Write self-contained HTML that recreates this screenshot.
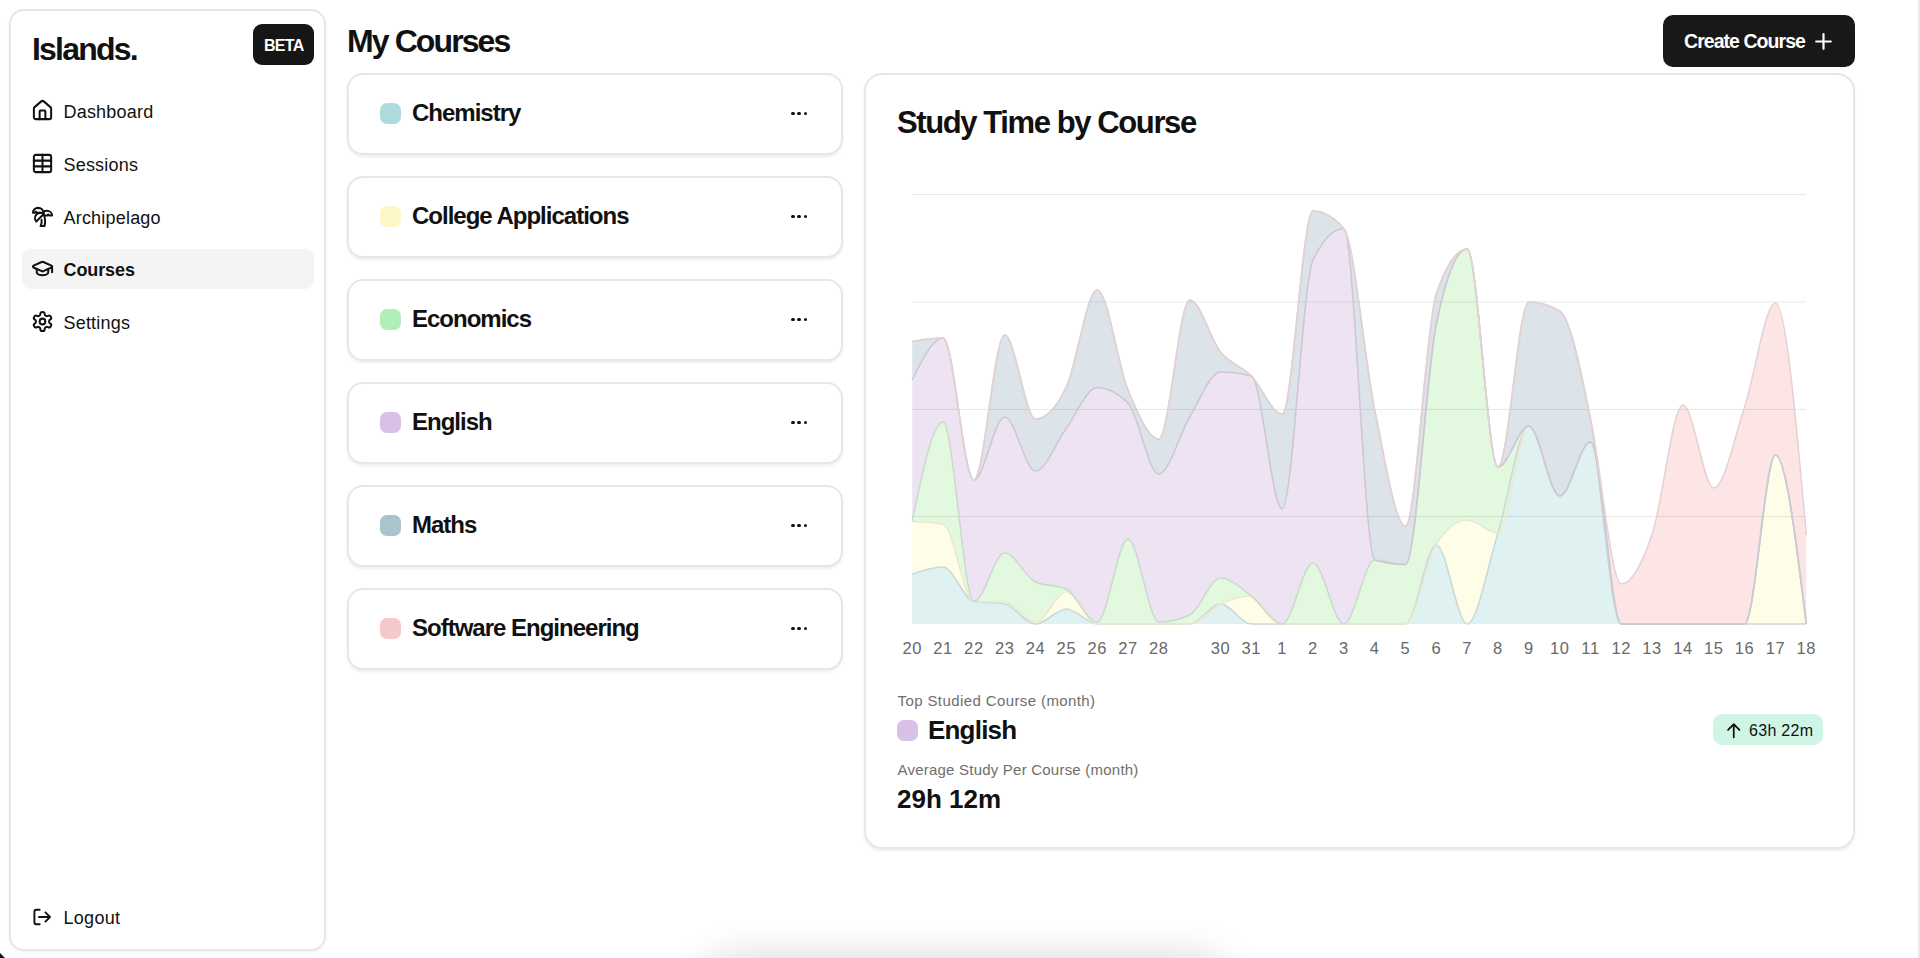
<!DOCTYPE html>
<html><head><meta charset="utf-8"><style>
html,body{margin:0;padding:0;background:#fff;width:1920px;height:958px;overflow:hidden;position:relative;font-family:"Liberation Sans",sans-serif}
.t{position:absolute;line-height:1;white-space:nowrap}
.ic{position:absolute}
.panel{position:absolute;box-sizing:border-box;border:2px solid #e6e6e6;background:#fff;border-radius:14px;box-shadow:0 1px 3px rgba(0,0,0,0.06)}
.card{position:absolute;box-sizing:border-box;border:2px solid #e7e7e7;background:#fff;border-radius:16px;box-shadow:0 2px 3px rgba(0,0,0,0.07)}
.sw{position:absolute;width:20.5px;height:20.5px;border-radius:7px}
.dots{position:absolute;width:18px;height:6px}
.dots i{position:absolute;top:0;width:3.7px;height:3.7px;border-radius:50%;background:#111}
.dots i:nth-child(1){left:0} .dots i:nth-child(2){left:6.3px} .dots i:nth-child(3){left:12.6px}
</style></head><body>
<div class="panel" style="left:9.3px;top:9.3px;width:317px;height:941.5px;border-radius:15px"></div>
<div class="t" style="left:32px;top:32.61px;font-size:32px;font-weight:700;color:#111;letter-spacing:-1.8px;">Islands.</div>
<div style="position:absolute;left:253px;top:24px;width:61px;height:41px;background:#161616;border-radius:9px"></div>
<div class="t" style="left:264px;top:38.26px;font-size:16px;font-weight:700;color:#fff;letter-spacing:-0.7px;">BETA</div>
<div style="position:absolute;left:21.5px;top:248.5px;width:292px;height:40.5px;background:#f4f4f4;border-radius:9px"></div>
<svg class="ic" style="left:30.8px;top:99.0px" width="23" height="23" viewBox="0 0 24 24"><path fill="none" stroke="#111" stroke-width="2.1" stroke-linecap="round" stroke-linejoin="round" d="M15 21v-8a1 1 0 0 0-1-1h-4a1 1 0 0 0-1 1v8"/><path fill="none" stroke="#111" stroke-width="2.1" stroke-linecap="round" stroke-linejoin="round" d="M3 10a2 2 0 0 1 .709-1.528l7-5.999a2 2 0 0 1 2.582 0l7 5.999A2 2 0 0 1 21 10v9a2 2 0 0 1-2 2H5a2 2 0 0 1-2-2z"/></svg><div class="t" style="left:63.5px;top:102.96px;font-size:18px;font-weight:400;color:#111;letter-spacing:0.2px;">Dashboard</div><svg class="ic" style="left:30.8px;top:152.0px" width="23" height="23" viewBox="0 0 24 24"><path fill="none" stroke="#111" stroke-width="2.1" stroke-linecap="round" stroke-linejoin="round" d="M12 3v18"/><rect fill="none" stroke="#111" stroke-width="2.1" stroke-linecap="round" stroke-linejoin="round" width="18" height="18" x="3" y="3" rx="2"/><path fill="none" stroke="#111" stroke-width="2.1" stroke-linecap="round" stroke-linejoin="round" d="M3 9h18"/><path fill="none" stroke="#111" stroke-width="2.1" stroke-linecap="round" stroke-linejoin="round" d="M3 15h18"/></svg><div class="t" style="left:63.5px;top:155.96px;font-size:18px;font-weight:400;color:#111;letter-spacing:0.2px;">Sessions</div><svg class="ic" style="left:30.8px;top:205.1px" width="23" height="23" viewBox="0 0 24 24"><path fill="none" stroke="#111" stroke-width="2.1" stroke-linecap="round" stroke-linejoin="round" d="M13 8c0-2.76-2.46-5-5.5-5S2 5.24 2 8h2l1-1 1 1h4"/><path fill="none" stroke="#111" stroke-width="2.1" stroke-linecap="round" stroke-linejoin="round" d="M13 7.14A5.82 5.82 0 0 1 16.5 6c3.04 0 5.5 2.24 5.5 5h-3l-1-1-1 1h-3"/><path fill="none" stroke="#111" stroke-width="2.1" stroke-linecap="round" stroke-linejoin="round" d="M5.89 9.71c-2.15 2.15-2.3 5.47-.35 7.43l4.24-4.25.7-.7.71-.71 2.12-2.12c-1.950-1.96-5.27-1.8-7.42.35"/><path fill="none" stroke="#111" stroke-width="2.1" stroke-linecap="round" stroke-linejoin="round" d="M11 15.5c.5 2.5-.17 4.5-1 6.5h4c2-5.5-.5-12-1-14"/></svg><div class="t" style="left:63.5px;top:209.06px;font-size:18px;font-weight:400;color:#111;letter-spacing:0.2px;">Archipelago</div><svg class="ic" style="left:30.8px;top:257.2px" width="23" height="23" viewBox="0 0 24 24"><path fill="none" stroke="#111" stroke-width="2.1" stroke-linecap="round" stroke-linejoin="round" d="M21.42 10.922a1 1 0 0 0-.019-1.838L12.83 5.18a2 2 0 0 0-1.66 0L2.6 9.08a1 1 0 0 0 0 1.832l8.57 3.908a2 2 0 0 0 1.66 0z"/><path fill="none" stroke="#111" stroke-width="2.1" stroke-linecap="round" stroke-linejoin="round" d="M22 10v6"/><path fill="none" stroke="#111" stroke-width="2.1" stroke-linecap="round" stroke-linejoin="round" d="M6 12.5V16a6 3 0 0 0 12 0v-3.5"/></svg><div class="t" style="left:63.5px;top:261.16px;font-size:18px;font-weight:700;color:#111;letter-spacing:-0.1px;">Courses</div><svg class="ic" style="left:30.8px;top:310.0px" width="23" height="23" viewBox="0 0 24 24"><path fill="none" stroke="#111" stroke-width="2.1" stroke-linecap="round" stroke-linejoin="round" d="M12.22 2h-.44a2 2 0 0 0-2 2v.18a2 2 0 0 1-1 1.73l-.43.25a2 2 0 0 1-2 0l-.15-.08a2 2 0 0 0-2.73.73l-.22.38a2 2 0 0 0 .73 2.73l.15.1a2 2 0 0 1 1 1.72v.51a2 2 0 0 1-1 1.74l-.15.09a2 2 0 0 0-.73 2.730l.22.38a2 2 0 0 0 2.73.73l.15-.08a2 2 0 0 1 2 0l.43.25a2 2 0 0 1 1 1.73V20a2 2 0 0 0 2 2h.44a2 2 0 0 0 2-2v-.18a2 2 0 0 1 1-1.73l.43-.25a2 2 0 0 1 2 0l.15.08a2 2 0 0 0 2.73-.73l.22-.39a2 2 0 0 0-.73-2.73l-.15-.08a2 2 0 0 1-1-1.74v-.5a2 2 0 0 1 1-1.74l.15-.09a2 2 0 0 0 .73-2.73l-.22-.38a2 2 0 0 0-2.73-.73l-.15.08a2 2 0 0 1-2 0l-.43-.25a2 2 0 0 1-1-1.73V4a2 2 0 0 0-2-2z"/><circle fill="none" stroke="#111" stroke-width="2.1" stroke-linecap="round" stroke-linejoin="round" cx="12" cy="12" r="3"/></svg><div class="t" style="left:63.5px;top:313.96px;font-size:18px;font-weight:400;color:#111;letter-spacing:0.2px;">Settings</div>
<svg style="position:absolute;left:30px;top:905px" width="24" height="24" viewBox="0 0 24 24"><path d="M9.7 4.7H6.4a2 2 0 0 0-2 2v10.6a2 2 0 0 0 2 2h3.3M9 12h10.9M15.4 7.4L20 12l-4.6 4.6" fill="none" stroke="#111" stroke-width="1.9" stroke-linecap="round" stroke-linejoin="round"/></svg>
<div class="t" style="left:63.5px;top:909.26px;font-size:18px;font-weight:400;color:#111;letter-spacing:0.3px;">Logout</div>
<div class="t" style="left:347px;top:25.41px;font-size:32px;font-weight:700;color:#111;letter-spacing:-1.9px;">My Courses</div>
<div class="card" style="left:347px;top:73px;width:495.5px;height:81.5px"></div><div class="sw" style="left:380px;top:103px;background:#addbdb"></div><div class="t" style="left:412px;top:101.18px;font-size:24px;font-weight:700;color:#111;letter-spacing:-1px;">Chemistry</div><div class="dots" style="left:791.2px;top:111.7px"><i></i><i></i><i></i></div><div class="card" style="left:347px;top:176px;width:495.5px;height:81.5px"></div><div class="sw" style="left:380px;top:206px;background:#fdf6c6"></div><div class="t" style="left:412px;top:204.18px;font-size:24px;font-weight:700;color:#111;letter-spacing:-1px;">College Applications</div><div class="dots" style="left:791.2px;top:214.7px"><i></i><i></i><i></i></div><div class="card" style="left:347px;top:279px;width:495.5px;height:81.5px"></div><div class="sw" style="left:380px;top:309px;background:#b0efb9"></div><div class="t" style="left:412px;top:307.18px;font-size:24px;font-weight:700;color:#111;letter-spacing:-1px;">Economics</div><div class="dots" style="left:791.2px;top:317.7px"><i></i><i></i><i></i></div><div class="card" style="left:347px;top:382px;width:495.5px;height:81.5px"></div><div class="sw" style="left:380px;top:412px;background:#d8c0e7"></div><div class="t" style="left:412px;top:410.18px;font-size:24px;font-weight:700;color:#111;letter-spacing:-1px;">English</div><div class="dots" style="left:791.2px;top:420.7px"><i></i><i></i><i></i></div><div class="card" style="left:347px;top:485px;width:495.5px;height:81.5px"></div><div class="sw" style="left:380px;top:515px;background:#a9c3cf"></div><div class="t" style="left:412px;top:513.18px;font-size:24px;font-weight:700;color:#111;letter-spacing:-1px;">Maths</div><div class="dots" style="left:791.2px;top:523.7px"><i></i><i></i><i></i></div><div class="card" style="left:347px;top:588px;width:495.5px;height:81.5px"></div><div class="sw" style="left:380px;top:618px;background:#f6c8cb"></div><div class="t" style="left:412px;top:616.18px;font-size:24px;font-weight:700;color:#111;letter-spacing:-1px;">Software Engineering</div><div class="dots" style="left:791.2px;top:626.7px"><i></i><i></i><i></i></div>
<div style="position:absolute;left:1663px;top:15px;width:192px;height:52px;background:#181818;border-radius:10px"></div>
<div class="t" style="left:1684px;top:31.69px;font-size:19.5px;font-weight:700;color:#fff;letter-spacing:-0.95px;">Create Course</div>
<svg style="position:absolute;left:1814px;top:32px" width="19" height="19" viewBox="0 0 19 19"><path d="M9.5 2.2v14.6M2.2 9.5h14.6" stroke="#fff" stroke-width="2.2" stroke-linecap="round"/></svg>
<div class="card" style="left:864px;top:73px;width:991px;height:776px;border-radius:18px"></div>
<div class="t" style="left:897px;top:106.76px;font-size:31px;font-weight:700;color:#111;letter-spacing:-1.4px;">Study Time by Course</div>
<svg style="position:absolute;left:0;top:0" width="1920" height="958">
<path d="M912.2,574C922.5,570.5 932.8,567 943,567C953.3,567 963.6,599.8 973.9,601.5C984.1,603.2 994.4,602.3 1004.7,604C1015,605.7 1025.2,624 1035.5,624C1045.8,624 1056.1,609 1066.4,609C1076.6,609 1086.9,624 1097.2,624C1107.5,624 1117.7,624 1128,624C1138.3,624 1148.6,624 1158.8,624C1169.1,624 1179.4,624 1189.7,624C1200,624 1210.2,604 1220.5,604C1230.8,604 1241.1,624 1251.3,624C1261.6,624 1271.9,624 1282.2,624C1292.4,624 1302.7,624 1313,624C1323.3,624 1333.6,624 1343.8,624C1354.1,624 1364.4,624 1374.7,624C1384.9,624 1395.2,624 1405.5,624C1415.8,624 1426.1,545 1436.3,545C1446.6,545 1456.9,624 1467.2,624C1477.4,624 1487.7,566 1498,533C1508.3,500 1518.5,426 1528.8,426C1539.1,426 1549.4,496 1559.7,496C1569.9,496 1580.2,442 1590.5,442C1600.8,442 1611,624 1621.3,624C1631.6,624 1641.9,624 1652.1,624C1662.4,624 1672.7,624 1683,624C1693.3,624 1703.5,624 1713.8,624C1724.1,624 1734.4,624 1744.6,624C1754.9,624 1765.2,624 1775.5,624C1785.7,624 1796,624 1806.3,624L1806.3,624L912.2,624Z" fill="#dff2f1" stroke="none"/>
<path d="M912.2,521.5C922.5,521.9 932.8,522.3 943,524C953.3,525.7 963.6,601.2 973.9,601.5C984.1,601.8 994.4,601.7 1004.7,602C1015,602.3 1025.2,622 1035.5,622C1045.8,622 1056.1,592 1066.4,592C1076.6,592 1086.9,624 1097.2,624C1107.5,624 1117.7,624 1128,624C1138.3,624 1148.6,624 1158.8,624C1169.1,624 1179.4,624 1189.7,624C1200,624 1210.2,608.7 1220.5,604C1230.8,599.3 1241.1,596 1251.3,596C1261.6,596 1271.9,624 1282.2,624C1292.4,624 1302.7,624 1313,624C1323.3,624 1333.6,624 1343.8,624C1354.1,624 1364.4,624 1374.7,624C1384.9,624 1395.2,624 1405.5,624C1415.8,624 1426.1,560 1436.3,544C1446.6,528 1456.9,520 1467.2,520C1477.4,520 1487.7,533 1498,533C1508.3,533 1518.5,426 1528.8,426C1539.1,426 1549.4,496 1559.7,496C1569.9,496 1580.2,442 1590.5,442C1600.8,442 1611,624 1621.3,624C1631.6,624 1641.9,624 1652.1,624C1662.4,624 1672.7,624 1683,624C1693.3,624 1703.5,624 1713.8,624C1724.1,624 1734.4,624 1744.6,624C1754.9,624 1765.2,455 1775.5,455C1785.7,455 1796,539.5 1806.3,624L1806.3,624C1796,624 1785.7,624 1775.5,624C1765.2,624 1754.9,624 1744.6,624C1734.4,624 1724.1,624 1713.8,624C1703.5,624 1693.3,624 1683,624C1672.7,624 1662.4,624 1652.1,624C1641.9,624 1631.6,624 1621.3,624C1611,624 1600.8,442 1590.5,442C1580.2,442 1569.9,496 1559.7,496C1549.4,496 1539.1,426 1528.8,426C1518.5,426 1508.3,500 1498,533C1487.7,566 1477.4,624 1467.2,624C1456.9,624 1446.6,545 1436.3,545C1426.1,545 1415.8,624 1405.5,624C1395.2,624 1384.9,624 1374.7,624C1364.4,624 1354.1,624 1343.8,624C1333.6,624 1323.3,624 1313,624C1302.7,624 1292.4,624 1282.2,624C1271.9,624 1261.6,624 1251.3,624C1241.1,624 1230.8,604 1220.5,604C1210.2,604 1200,624 1189.7,624C1179.4,624 1169.1,624 1158.8,624C1148.6,624 1138.3,624 1128,624C1117.7,624 1107.5,624 1097.2,624C1086.9,624 1076.6,609 1066.4,609C1056.1,609 1045.8,624 1035.5,624C1025.2,624 1015,605.7 1004.7,604C994.4,602.3 984.1,603.2 973.9,601.5C963.6,599.8 953.3,567 943,567C932.8,567 922.5,570.5 912.2,574Z" fill="#fefde8" stroke="none"/>
<path d="M912.2,521C922.5,471.5 932.8,422 943,422C953.3,422 963.6,601.5 973.9,601.5C984.1,601.5 994.4,553 1004.7,553C1015,553 1025.2,577.3 1035.5,582C1045.8,586.7 1056.1,584.3 1066.4,589C1076.6,593.7 1086.9,622 1097.2,622C1107.5,622 1117.7,539 1128,539C1138.3,539 1148.6,622 1158.8,622C1169.1,622 1179.4,619.7 1189.7,615C1200,610.3 1210.2,578 1220.5,578C1230.8,578 1241.1,588.3 1251.3,596C1261.6,603.7 1271.9,624 1282.2,624C1292.4,624 1302.7,563 1313,563C1323.3,563 1333.6,624 1343.8,624C1354.1,624 1364.4,560 1374.7,560C1384.9,560 1395.2,564.5 1405.5,564.5C1415.8,564.5 1426.1,374 1436.3,324C1446.6,274 1456.9,249 1467.2,249C1477.4,249 1487.7,467 1498,467C1508.3,467 1518.5,426 1528.8,426C1539.1,426 1549.4,496 1559.7,496C1569.9,496 1580.2,442 1590.5,442C1600.8,442 1611,624 1621.3,624C1631.6,624 1641.9,624 1652.1,624C1662.4,624 1672.7,624 1683,624C1693.3,624 1703.5,624 1713.8,624C1724.1,624 1734.4,624 1744.6,624C1754.9,624 1765.2,455 1775.5,455C1785.7,455 1796,539.5 1806.3,624L1806.3,624C1796,539.5 1785.7,455 1775.5,455C1765.2,455 1754.9,624 1744.6,624C1734.4,624 1724.1,624 1713.8,624C1703.5,624 1693.3,624 1683,624C1672.7,624 1662.4,624 1652.1,624C1641.9,624 1631.6,624 1621.3,624C1611,624 1600.8,442 1590.5,442C1580.2,442 1569.9,496 1559.7,496C1549.4,496 1539.1,426 1528.8,426C1518.5,426 1508.3,533 1498,533C1487.7,533 1477.4,520 1467.2,520C1456.9,520 1446.6,528 1436.3,544C1426.1,560 1415.8,624 1405.5,624C1395.2,624 1384.9,624 1374.7,624C1364.4,624 1354.1,624 1343.8,624C1333.6,624 1323.3,624 1313,624C1302.7,624 1292.4,624 1282.2,624C1271.9,624 1261.6,596 1251.3,596C1241.1,596 1230.8,599.3 1220.5,604C1210.2,608.7 1200,624 1189.7,624C1179.4,624 1169.1,624 1158.8,624C1148.6,624 1138.3,624 1128,624C1117.7,624 1107.5,624 1097.2,624C1086.9,624 1076.6,592 1066.4,592C1056.1,592 1045.8,622 1035.5,622C1025.2,622 1015,602.3 1004.7,602C994.4,601.7 984.1,601.8 973.9,601.5C963.6,601.2 953.3,525.7 943,524C932.8,522.3 922.5,521.9 912.2,521.5Z" fill="#e2f8df" stroke="none"/>
<path d="M912.2,380C922.5,359 932.8,338 943,338C953.3,338 963.6,480 973.9,480C984.1,480 994.4,417 1004.7,417C1015,417 1025.2,471 1035.5,471C1045.8,471 1056.1,441.9 1066.4,428C1076.6,414.1 1086.9,387.5 1097.2,387.5C1107.5,387.5 1117.7,392.7 1128,403C1138.3,413.3 1148.6,474 1158.8,474C1169.1,474 1179.4,434 1189.7,417C1200,400 1210.2,372 1220.5,372C1230.8,372 1241.1,373.3 1251.3,376C1261.6,378.7 1271.9,509 1282.2,509C1292.4,509 1302.7,281 1313,260C1323.3,239 1333.6,228.5 1343.8,228.5C1354.1,228.5 1364.4,557 1374.7,560C1384.9,563 1395.2,564.5 1405.5,564.5C1415.8,564.5 1426.1,374 1436.3,324C1446.6,274 1456.9,249 1467.2,249C1477.4,249 1487.7,467 1498,467C1508.3,467 1518.5,426 1528.8,426C1539.1,426 1549.4,496 1559.7,496C1569.9,496 1580.2,442 1590.5,442C1600.8,442 1611,624 1621.3,624C1631.6,624 1641.9,624 1652.1,624C1662.4,624 1672.7,624 1683,624C1693.3,624 1703.5,624 1713.8,624C1724.1,624 1734.4,624 1744.6,624C1754.9,624 1765.2,455 1775.5,455C1785.7,455 1796,539.5 1806.3,624L1806.3,624C1796,539.5 1785.7,455 1775.5,455C1765.2,455 1754.9,624 1744.6,624C1734.4,624 1724.1,624 1713.8,624C1703.5,624 1693.3,624 1683,624C1672.7,624 1662.4,624 1652.1,624C1641.9,624 1631.6,624 1621.3,624C1611,624 1600.8,442 1590.5,442C1580.2,442 1569.9,496 1559.7,496C1549.4,496 1539.1,426 1528.8,426C1518.5,426 1508.3,467 1498,467C1487.7,467 1477.4,249 1467.2,249C1456.9,249 1446.6,274 1436.3,324C1426.1,374 1415.8,564.5 1405.5,564.5C1395.2,564.5 1384.9,560 1374.7,560C1364.4,560 1354.1,624 1343.8,624C1333.6,624 1323.3,563 1313,563C1302.7,563 1292.4,624 1282.2,624C1271.9,624 1261.6,603.7 1251.3,596C1241.1,588.3 1230.8,578 1220.5,578C1210.2,578 1200,610.3 1189.7,615C1179.4,619.7 1169.1,622 1158.8,622C1148.6,622 1138.3,539 1128,539C1117.7,539 1107.5,622 1097.2,622C1086.9,622 1076.6,593.7 1066.4,589C1056.1,584.3 1045.8,586.7 1035.5,582C1025.2,577.3 1015,553 1004.7,553C994.4,553 984.1,601.5 973.9,601.5C963.6,601.5 953.3,422 943,422C932.8,422 922.5,471.5 912.2,521Z" fill="#eee3f3" stroke="none"/>
<path d="M912.2,341.5C922.5,339.8 932.8,338 943,338C953.3,338 963.6,480 973.9,480C984.1,480 994.4,335 1004.7,335C1015,335 1025.2,419 1035.5,419C1045.8,419 1056.1,408.3 1066.4,387C1076.6,365.7 1086.9,290 1097.2,290C1107.5,290 1117.7,365.2 1128,390C1138.3,414.8 1148.6,439 1158.8,439C1169.1,439 1179.4,300 1189.7,300C1200,300 1210.2,339.3 1220.5,352C1230.8,364.7 1241.1,365.7 1251.3,376C1261.6,386.3 1271.9,414 1282.2,414C1292.4,414 1302.7,211 1313,211C1323.3,211 1333.6,216.8 1343.8,228.5C1354.1,240.2 1364.4,360.4 1374.7,410C1384.9,459.6 1395.2,526 1405.5,526C1415.8,526 1426.1,324 1436.3,294C1446.6,264 1456.9,249 1467.2,249C1477.4,249 1487.7,467 1498,467C1508.3,467 1518.5,302 1528.8,302C1539.1,302 1549.4,305 1559.7,311C1569.9,317 1580.2,366.8 1590.5,419C1600.8,471.2 1611,624 1621.3,624C1631.6,624 1641.9,624 1652.1,624C1662.4,624 1672.7,624 1683,624C1693.3,624 1703.5,624 1713.8,624C1724.1,624 1734.4,624 1744.6,624C1754.9,624 1765.2,455 1775.5,455C1785.7,455 1796,539.5 1806.3,624L1806.3,624C1796,539.5 1785.7,455 1775.5,455C1765.2,455 1754.9,624 1744.6,624C1734.4,624 1724.1,624 1713.8,624C1703.5,624 1693.3,624 1683,624C1672.7,624 1662.4,624 1652.1,624C1641.9,624 1631.6,624 1621.3,624C1611,624 1600.8,442 1590.5,442C1580.2,442 1569.9,496 1559.7,496C1549.4,496 1539.1,426 1528.8,426C1518.5,426 1508.3,467 1498,467C1487.7,467 1477.4,249 1467.2,249C1456.9,249 1446.6,274 1436.3,324C1426.1,374 1415.8,564.5 1405.5,564.5C1395.2,564.5 1384.9,563 1374.7,560C1364.4,557 1354.1,228.5 1343.8,228.5C1333.6,228.5 1323.3,239 1313,260C1302.7,281 1292.4,509 1282.2,509C1271.9,509 1261.6,378.7 1251.3,376C1241.1,373.3 1230.8,372 1220.5,372C1210.2,372 1200,400 1189.7,417C1179.4,434 1169.1,474 1158.8,474C1148.6,474 1138.3,413.3 1128,403C1117.7,392.7 1107.5,387.5 1097.2,387.5C1086.9,387.5 1076.6,414.1 1066.4,428C1056.1,441.9 1045.8,471 1035.5,471C1025.2,471 1015,417 1004.7,417C994.4,417 984.1,480 973.9,480C963.6,480 953.3,338 943,338C932.8,338 922.5,359 912.2,380Z" fill="#dde4e9" stroke="none"/>
<path d="M912.2,341.5C922.5,339.8 932.8,338 943,338C953.3,338 963.6,480 973.9,480C984.1,480 994.4,335 1004.7,335C1015,335 1025.2,419 1035.5,419C1045.8,419 1056.1,408.3 1066.4,387C1076.6,365.7 1086.9,290 1097.2,290C1107.5,290 1117.7,365.2 1128,390C1138.3,414.8 1148.6,439 1158.8,439C1169.1,439 1179.4,300 1189.7,300C1200,300 1210.2,339.3 1220.5,352C1230.8,364.7 1241.1,365.7 1251.3,376C1261.6,386.3 1271.9,414 1282.2,414C1292.4,414 1302.7,211 1313,211C1323.3,211 1333.6,216.8 1343.8,228.5C1354.1,240.2 1364.4,360.4 1374.7,410C1384.9,459.6 1395.2,526 1405.5,526C1415.8,526 1426.1,324 1436.3,294C1446.6,264 1456.9,249 1467.2,249C1477.4,249 1487.7,467 1498,467C1508.3,467 1518.5,302 1528.8,302C1539.1,302 1549.4,305 1559.7,311C1569.9,317 1580.2,373.5 1590.5,419C1600.8,464.5 1611,584 1621.3,584C1631.6,584 1641.9,564.3 1652.1,534.5C1662.4,504.7 1672.7,405 1683,405C1693.3,405 1703.5,488 1713.8,488C1724.1,488 1734.4,437.8 1744.6,407C1754.9,376.2 1765.2,303 1775.5,303C1785.7,303 1796,419 1806.3,535L1806.3,624C1796,539.5 1785.7,455 1775.5,455C1765.2,455 1754.9,624 1744.6,624C1734.4,624 1724.1,624 1713.8,624C1703.5,624 1693.3,624 1683,624C1672.7,624 1662.4,624 1652.1,624C1641.9,624 1631.6,624 1621.3,624C1611,624 1600.8,471.2 1590.5,419C1580.2,366.8 1569.9,317 1559.7,311C1549.4,305 1539.1,302 1528.8,302C1518.5,302 1508.3,467 1498,467C1487.7,467 1477.4,249 1467.2,249C1456.9,249 1446.6,264 1436.3,294C1426.1,324 1415.8,526 1405.5,526C1395.2,526 1384.9,459.6 1374.7,410C1364.4,360.4 1354.1,240.2 1343.8,228.5C1333.6,216.8 1323.3,211 1313,211C1302.7,211 1292.4,414 1282.2,414C1271.9,414 1261.6,386.3 1251.3,376C1241.1,365.7 1230.8,364.7 1220.5,352C1210.2,339.3 1200,300 1189.7,300C1179.4,300 1169.1,439 1158.8,439C1148.6,439 1138.3,414.8 1128,390C1117.7,365.2 1107.5,290 1097.2,290C1086.9,290 1076.6,365.7 1066.4,387C1056.1,408.3 1045.8,419 1035.5,419C1025.2,419 1015,335 1004.7,335C994.4,335 984.1,480 973.9,480C963.6,480 953.3,338 943,338C932.8,338 922.5,339.8 912.2,341.5Z" fill="#fde5e6" stroke="none"/>
<g stroke="rgba(0,0,0,0.09)" stroke-width="1.2"><line x1="912" x2="1806" y1="194.5" y2="194.5"/><line x1="912" x2="1806" y1="302" y2="302"/><line x1="912" x2="1806" y1="409.5" y2="409.5"/><line x1="912" x2="1806" y1="516.5" y2="516.5"/></g>
<path d="M912.2,574C922.5,570.5 932.8,567 943,567C953.3,567 963.6,599.8 973.9,601.5C984.1,603.2 994.4,602.3 1004.7,604C1015,605.7 1025.2,624 1035.5,624C1045.8,624 1056.1,609 1066.4,609C1076.6,609 1086.9,624 1097.2,624C1107.5,624 1117.7,624 1128,624C1138.3,624 1148.6,624 1158.8,624C1169.1,624 1179.4,624 1189.7,624C1200,624 1210.2,604 1220.5,604C1230.8,604 1241.1,624 1251.3,624C1261.6,624 1271.9,624 1282.2,624C1292.4,624 1302.7,624 1313,624C1323.3,624 1333.6,624 1343.8,624C1354.1,624 1364.4,624 1374.7,624C1384.9,624 1395.2,624 1405.5,624C1415.8,624 1426.1,545 1436.3,545C1446.6,545 1456.9,624 1467.2,624C1477.4,624 1487.7,566 1498,533C1508.3,500 1518.5,426 1528.8,426C1539.1,426 1549.4,496 1559.7,496C1569.9,496 1580.2,442 1590.5,442C1600.8,442 1611,624 1621.3,624C1631.6,624 1641.9,624 1652.1,624C1662.4,624 1672.7,624 1683,624C1693.3,624 1703.5,624 1713.8,624C1724.1,624 1734.4,624 1744.6,624C1754.9,624 1765.2,624 1775.5,624C1785.7,624 1796,624 1806.3,624" fill="none" stroke="#c9d9d9" stroke-width="1.6"/>
<path d="M912.2,521.5C922.5,521.9 932.8,522.3 943,524C953.3,525.7 963.6,601.2 973.9,601.5C984.1,601.8 994.4,601.7 1004.7,602C1015,602.3 1025.2,622 1035.5,622C1045.8,622 1056.1,592 1066.4,592C1076.6,592 1086.9,624 1097.2,624C1107.5,624 1117.7,624 1128,624C1138.3,624 1148.6,624 1158.8,624C1169.1,624 1179.4,624 1189.7,624C1200,624 1210.2,608.7 1220.5,604C1230.8,599.3 1241.1,596 1251.3,596C1261.6,596 1271.9,624 1282.2,624C1292.4,624 1302.7,624 1313,624C1323.3,624 1333.6,624 1343.8,624C1354.1,624 1364.4,624 1374.7,624C1384.9,624 1395.2,624 1405.5,624C1415.8,624 1426.1,560 1436.3,544C1446.6,528 1456.9,520 1467.2,520C1477.4,520 1487.7,533 1498,533C1508.3,533 1518.5,426 1528.8,426C1539.1,426 1549.4,496 1559.7,496C1569.9,496 1580.2,442 1590.5,442C1600.8,442 1611,624 1621.3,624C1631.6,624 1641.9,624 1652.1,624C1662.4,624 1672.7,624 1683,624C1693.3,624 1703.5,624 1713.8,624C1724.1,624 1734.4,624 1744.6,624C1754.9,624 1765.2,455 1775.5,455C1785.7,455 1796,539.5 1806.3,624" fill="none" stroke="#ebe8d0" stroke-width="1.6"/>
<path d="M912.2,521C922.5,471.5 932.8,422 943,422C953.3,422 963.6,601.5 973.9,601.5C984.1,601.5 994.4,553 1004.7,553C1015,553 1025.2,577.3 1035.5,582C1045.8,586.7 1056.1,584.3 1066.4,589C1076.6,593.7 1086.9,622 1097.2,622C1107.5,622 1117.7,539 1128,539C1138.3,539 1148.6,622 1158.8,622C1169.1,622 1179.4,619.7 1189.7,615C1200,610.3 1210.2,578 1220.5,578C1230.8,578 1241.1,588.3 1251.3,596C1261.6,603.7 1271.9,624 1282.2,624C1292.4,624 1302.7,563 1313,563C1323.3,563 1333.6,624 1343.8,624C1354.1,624 1364.4,560 1374.7,560C1384.9,560 1395.2,564.5 1405.5,564.5C1415.8,564.5 1426.1,374 1436.3,324C1446.6,274 1456.9,249 1467.2,249C1477.4,249 1487.7,467 1498,467C1508.3,467 1518.5,426 1528.8,426C1539.1,426 1549.4,496 1559.7,496C1569.9,496 1580.2,442 1590.5,442C1600.8,442 1611,624 1621.3,624C1631.6,624 1641.9,624 1652.1,624C1662.4,624 1672.7,624 1683,624C1693.3,624 1703.5,624 1713.8,624C1724.1,624 1734.4,624 1744.6,624C1754.9,624 1765.2,455 1775.5,455C1785.7,455 1796,539.5 1806.3,624" fill="none" stroke="#cadbcd" stroke-width="1.6"/>
<path d="M912.2,380C922.5,359 932.8,338 943,338C953.3,338 963.6,480 973.9,480C984.1,480 994.4,417 1004.7,417C1015,417 1025.2,471 1035.5,471C1045.8,471 1056.1,441.9 1066.4,428C1076.6,414.1 1086.9,387.5 1097.2,387.5C1107.5,387.5 1117.7,392.7 1128,403C1138.3,413.3 1148.6,474 1158.8,474C1169.1,474 1179.4,434 1189.7,417C1200,400 1210.2,372 1220.5,372C1230.8,372 1241.1,373.3 1251.3,376C1261.6,378.7 1271.9,509 1282.2,509C1292.4,509 1302.7,281 1313,260C1323.3,239 1333.6,228.5 1343.8,228.5C1354.1,228.5 1364.4,557 1374.7,560C1384.9,563 1395.2,564.5 1405.5,564.5C1415.8,564.5 1426.1,374 1436.3,324C1446.6,274 1456.9,249 1467.2,249C1477.4,249 1487.7,467 1498,467C1508.3,467 1518.5,426 1528.8,426C1539.1,426 1549.4,496 1559.7,496C1569.9,496 1580.2,442 1590.5,442C1600.8,442 1611,624 1621.3,624C1631.6,624 1641.9,624 1652.1,624C1662.4,624 1672.7,624 1683,624C1693.3,624 1703.5,624 1713.8,624C1724.1,624 1734.4,624 1744.6,624C1754.9,624 1765.2,455 1775.5,455C1785.7,455 1796,539.5 1806.3,624" fill="none" stroke="#cfc6d5" stroke-width="1.6"/>
<path d="M912.2,341.5C922.5,339.8 932.8,338 943,338C953.3,338 963.6,480 973.9,480C984.1,480 994.4,335 1004.7,335C1015,335 1025.2,419 1035.5,419C1045.8,419 1056.1,408.3 1066.4,387C1076.6,365.7 1086.9,290 1097.2,290C1107.5,290 1117.7,365.2 1128,390C1138.3,414.8 1148.6,439 1158.8,439C1169.1,439 1179.4,300 1189.7,300C1200,300 1210.2,339.3 1220.5,352C1230.8,364.7 1241.1,365.7 1251.3,376C1261.6,386.3 1271.9,414 1282.2,414C1292.4,414 1302.7,211 1313,211C1323.3,211 1333.6,216.8 1343.8,228.5C1354.1,240.2 1364.4,360.4 1374.7,410C1384.9,459.6 1395.2,526 1405.5,526C1415.8,526 1426.1,324 1436.3,294C1446.6,264 1456.9,249 1467.2,249C1477.4,249 1487.7,467 1498,467C1508.3,467 1518.5,302 1528.8,302C1539.1,302 1549.4,305 1559.7,311C1569.9,317 1580.2,366.8 1590.5,419C1600.8,471.2 1611,624 1621.3,624C1631.6,624 1641.9,624 1652.1,624C1662.4,624 1672.7,624 1683,624C1693.3,624 1703.5,624 1713.8,624C1724.1,624 1734.4,624 1744.6,624C1754.9,624 1765.2,455 1775.5,455C1785.7,455 1796,539.5 1806.3,624" fill="none" stroke="#c9ced3" stroke-width="1.6"/>
<path d="M912.2,341.5C922.5,339.8 932.8,338 943,338C953.3,338 963.6,480 973.9,480C984.1,480 994.4,335 1004.7,335C1015,335 1025.2,419 1035.5,419C1045.8,419 1056.1,408.3 1066.4,387C1076.6,365.7 1086.9,290 1097.2,290C1107.5,290 1117.7,365.2 1128,390C1138.3,414.8 1148.6,439 1158.8,439C1169.1,439 1179.4,300 1189.7,300C1200,300 1210.2,339.3 1220.5,352C1230.8,364.7 1241.1,365.7 1251.3,376C1261.6,386.3 1271.9,414 1282.2,414C1292.4,414 1302.7,211 1313,211C1323.3,211 1333.6,216.8 1343.8,228.5C1354.1,240.2 1364.4,360.4 1374.7,410C1384.9,459.6 1395.2,526 1405.5,526C1415.8,526 1426.1,324 1436.3,294C1446.6,264 1456.9,249 1467.2,249C1477.4,249 1487.7,467 1498,467C1508.3,467 1518.5,302 1528.8,302C1539.1,302 1549.4,305 1559.7,311C1569.9,317 1580.2,373.5 1590.5,419C1600.8,464.5 1611,584 1621.3,584C1631.6,584 1641.9,564.3 1652.1,534.5C1662.4,504.7 1672.7,405 1683,405C1693.3,405 1703.5,488 1713.8,488C1724.1,488 1734.4,437.8 1744.6,407C1754.9,376.2 1765.2,303 1775.5,303C1785.7,303 1796,419 1806.3,535" fill="none" stroke="#e6d2d3" stroke-width="1.6"/>
<g font-family="Liberation Sans" font-size="16.5" fill="#686868" letter-spacing="0.6"><text x="912.2" y="653.7" text-anchor="middle">20</text><text x="943.0" y="653.7" text-anchor="middle">21</text><text x="973.9" y="653.7" text-anchor="middle">22</text><text x="1004.7" y="653.7" text-anchor="middle">23</text><text x="1035.5" y="653.7" text-anchor="middle">24</text><text x="1066.4" y="653.7" text-anchor="middle">25</text><text x="1097.2" y="653.7" text-anchor="middle">26</text><text x="1128.0" y="653.7" text-anchor="middle">27</text><text x="1158.8" y="653.7" text-anchor="middle">28</text><text x="1220.5" y="653.7" text-anchor="middle">30</text><text x="1251.3" y="653.7" text-anchor="middle">31</text><text x="1282.2" y="653.7" text-anchor="middle">1</text><text x="1313.0" y="653.7" text-anchor="middle">2</text><text x="1343.8" y="653.7" text-anchor="middle">3</text><text x="1374.7" y="653.7" text-anchor="middle">4</text><text x="1405.5" y="653.7" text-anchor="middle">5</text><text x="1436.3" y="653.7" text-anchor="middle">6</text><text x="1467.2" y="653.7" text-anchor="middle">7</text><text x="1498.0" y="653.7" text-anchor="middle">8</text><text x="1528.8" y="653.7" text-anchor="middle">9</text><text x="1559.7" y="653.7" text-anchor="middle">10</text><text x="1590.5" y="653.7" text-anchor="middle">11</text><text x="1621.3" y="653.7" text-anchor="middle">12</text><text x="1652.1" y="653.7" text-anchor="middle">13</text><text x="1683.0" y="653.7" text-anchor="middle">14</text><text x="1713.8" y="653.7" text-anchor="middle">15</text><text x="1744.6" y="653.7" text-anchor="middle">16</text><text x="1775.5" y="653.7" text-anchor="middle">17</text><text x="1806.3" y="653.7" text-anchor="middle">18</text></g>
</svg>
<div class="t" style="left:897.5px;top:693.10px;font-size:15px;font-weight:400;color:#6e6e6e;letter-spacing:0.4px;">Top Studied Course (month)</div>
<div class="sw" style="left:897px;top:720px;background:#d8c0e7"></div>
<div class="t" style="left:928px;top:717.29px;font-size:26px;font-weight:700;color:#111;letter-spacing:-0.8px;">English</div>
<div style="position:absolute;left:1712.5px;top:714px;width:110px;height:31px;background:#cff5e4;border-radius:9px"></div>
<svg style="position:absolute;left:1723.5px;top:720.5px" width="19.5" height="19.5" viewBox="0 0 24 24"><path d="M12 20V4M5 11l7-7 7 7" fill="none" stroke="#111" stroke-width="2.2" stroke-linecap="round" stroke-linejoin="round"/></svg>
<div class="t" style="left:1749px;top:723.06px;font-size:16px;font-weight:400;color:#111;letter-spacing:0.3px;">63h 22m</div>
<div class="t" style="left:897.5px;top:762.10px;font-size:15px;font-weight:400;color:#6e6e6e;letter-spacing:0.22px;">Average Study Per Course (month)</div>
<div class="t" style="left:897px;top:785.79px;font-size:26px;font-weight:700;color:#111;letter-spacing:0px;">29h 12m</div>
<div style="position:absolute;left:715px;top:972px;width:500px;height:50px;border-radius:25px;box-shadow:0 0 38px 16px rgba(0,0,0,0.15)"></div>
<div style="position:absolute;left:1918px;top:0;width:2px;height:958px;background:linear-gradient(to right,#f3f3f3,#e3e3e3)"></div>
<svg style="position:absolute;left:0;top:948px" width="12" height="12" viewBox="0 0 12 12"><path d="M-2 3L6 11L-2 14Z" fill="#111"/></svg>
</body></html>
